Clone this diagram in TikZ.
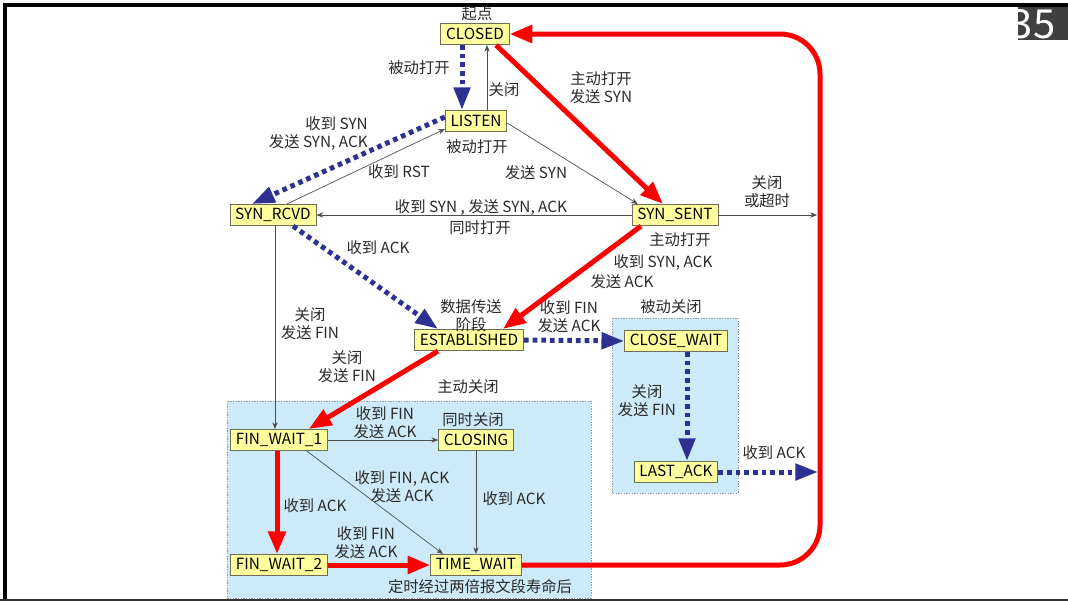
\documentclass[tikz,border=0pt]{standalone}
\usepackage{fontspec}
\setmainfont{Noto Sans CJK SC}
\usepackage{tikz}
\usetikzlibrary{arrows.meta,calc}

\definecolor{stateyellow}{HTML}{FFFF9E}
\definecolor{statedraw}{HTML}{6E6E58}
\definecolor{tcpblue}{HTML}{2E3192}
\definecolor{tcpred}{HTML}{FF0000}
\definecolor{areablue}{HTML}{CCEAF9}
\definecolor{areadraw}{HTML}{8C9CA8}
\definecolor{labelgray}{HTML}{2A2A2A}
\definecolor{pagegray}{HTML}{404040}

\begin{document}
\begin{tikzpicture}[
  x=0.75pt, y=-0.75pt,
  font=\fontsize{11.5}{13.5}\selectfont,
  state/.style={draw=statedraw, fill=stateyellow, line width=0.6pt,
                minimum height=16pt, inner xsep=4pt, inner ysep=1pt,
                text=black},
  lbl/.style={inner sep=0pt, align=center, text=labelgray},
  area/.style={draw=areadraw, fill=areablue, line width=0.6pt,
               dash pattern=on 1pt off 1pt},
  thinarr/.style={-{Stealth[length=5pt, width=4pt]}, line width=0.5pt,
                  draw=black!70},
  redarr/.style={-{Triangle[length=17pt, width=13pt]}, line width=3.75pt,
                 draw=tcpred},
  bluearr/.style={-{Triangle[length=17pt, width=12pt]}, line width=3.75pt,
                  draw=tcpblue, dash pattern=on 3.5pt off 3pt}
]
\useasboundingbox (0,0) rectangle (1068,601);
\fill[white] (0,0) rectangle (1068,601);

% slide frame and page number
\fill[black] (3,3) rectangle (1068,7);
\fill[black] (3,3) rectangle (7,601);
\fill[black!80] (0,598.5) rectangle (1068,601);
\fill[pagegray] (1018,7) rectangle (1068,40);
\begin{scope}
  \clip (1018,7) rectangle (1068,40);
  \node[text=white, font=\fontsize{30}{30}\selectfont, inner sep=0pt]
    (pagenum) at (1033,24) {35};
\end{scope}

% shaded closing regions
\draw[area] (227,401) rectangle (591,598);
\draw[area] (612,318) rectangle (738,493);

% states
\node[state] (closed)    at (475,34)  {CLOSED};
\node[state] (listen)    at (476,121) {LISTEN};
\node[state] (synrcvd)   at (273,215) {SYN\_RCVD};
\node[state] (synsent)   at (675,215) {SYN\_SENT};
\node[state] (estab)     at (469,340) {ESTABLISHED};
\node[state] (closewait) at (676,341) {CLOSE\_WAIT};
\node[state] (lastack)   at (676,472) {LAST\_ACK};
\node[state] (finwait1)  at (279,440) {FIN\_WAIT\_1};
\node[state] (closing)   at (476,440) {CLOSING};
\node[state] (finwait2)  at (279,565) {FIN\_WAIT\_2};
\node[state] (timewait)  at (476,565) {TIME\_WAIT};
\coordinate (rx1) at (817,215);
\coordinate (rx2) at (818,472);

% transitions
\draw[bluearr] ($(closed.south)+(-13,0)$) -- ($(listen.north)+(-14,0)$);
\draw[thinarr] ($(listen.north)+(11,0)$) -- ($(closed.south)+(12,0)$);
\draw[redarr] ($(closed.south)+(21,0)$) -- ($(synsent.north)+(-12,0)$);
\draw[bluearr] ($(listen.west)+(0,-4)$) -- ($(synrcvd.north)+(-21,0)$);
\draw[thinarr] ($(synrcvd.north)+(14,0)$) -- ($(listen.west)+(0,8)$);
\draw[thinarr] ($(listen.east)+(0,2)$) -- ($(synsent.north west)+(6,0)$);
\draw[thinarr] (synsent.west) -- (synrcvd.east);
\draw[thinarr] (synsent.east) -- (rx1);
\draw[bluearr] ($(synrcvd.south)+(20,0)$) -- ($(estab.north)+(-31,0)$);
\draw[redarr] ($(synsent.south)+(-34,0)$) -- ($(estab.north)+(34,0)$);
\draw[bluearr] (estab.east) -- (closewait.west);
\draw[bluearr] ($(closewait.south)+(11,0)$) -- ($(lastack.north)+(11,0)$);
\draw[bluearr] (lastack.east) -- (rx2);
\draw[thinarr] ($(synrcvd.south)+(2,0)$) -- ($(finwait1.north)+(-4,0)$);
\draw[redarr] ($(estab.south)+(-31,0)$) -- ($(finwait1.north east)+(-19,0)$);
\draw[thinarr] (finwait1.east) -- (closing.west);
\draw[thinarr] ($(finwait1.south east)+(-21,0)$) -- ($(timewait.north)+(-33,0)$);
\draw[thinarr] (closing.south) -- (timewait.north);
\draw[redarr] ($(finwait1.south)+(-2,0)$) -- ($(finwait2.north)+(-2,0)$);
\draw[redarr] (finwait2.east) -- (timewait.west);
\draw[redarr, rounded corners=30pt] (timewait.east) -- (820,565) -- (820,34)
  -- (closed.east);

% labels
\node[lbl] (qidian)        at (477,14)  {起点};
\node[lbl] (l-passive)     at (419,68)  {被动打开};
\node[lbl] (l-close1)      at (504,90)  {关闭};
\node[lbl] (l-active)      at (601,88)  {主动打开\\发送 SYN};
\node[lbl, align=right, anchor=east] (l-synack) at (368,134)
  {收到 SYN\\发送 SYN, ACK};
\node[lbl] (l-passive2)    at (477,147) {被动打开};
\node[lbl] (l-rst)         at (399,172) {收到 RST};
\node[lbl] (l-sendsyn)     at (536,173) {发送 SYN};
\node[lbl] (l-timeout)     at (767,192) {关闭\\或超时};
\node[lbl] (l-simopen1)    at (481,207) {收到 SYN , 发送 SYN, ACK};
\node[lbl] (l-simopen2)    at (480,228) {同时打开};
\node[lbl] (l-active2)     at (680,240) {主动打开};
\node[lbl] (l-ack1)        at (378,248) {收到 ACK};
\node[lbl] (l-synack2)     at (663,263) {收到 SYN, ACK};
\node[lbl] (l-sendack)     at (622,282) {发送 ACK};
\node[lbl] (l-data)        at (471,316) {数据传送\\阶段};
\node[lbl] (l-fin1)        at (569,317) {收到 FIN\\发送 ACK};
\node[lbl] (l-passclose)   at (671,307) {被动关闭};
\node[lbl] (l-close2)      at (310,324) {关闭\\发送 FIN};
\node[lbl] (l-close3)      at (347,367) {关闭\\发送 FIN};
\node[lbl] (l-actclose)    at (468,387) {主动关闭};
\node[lbl] (l-close4)      at (647,401) {关闭\\发送 FIN};
\node[lbl] (l-fin2)        at (385,423) {收到 FIN\\发送 ACK};
\node[lbl] (l-simclose)    at (473,420) {同时关闭};
\node[lbl] (l-ack2)        at (774,453) {收到 ACK};
\node[lbl] (l-finack)      at (402,487) {收到 FIN, ACK\\发送 ACK};
\node[lbl] (l-ack3)        at (514,499) {收到 ACK};
\node[lbl] (l-ack4)        at (315,506) {收到 ACK};
\node[lbl] (l-fin3)        at (366,543) {收到 FIN\\发送 ACK};
\node[lbl] (l-2msl)        at (480,587) {定时经过两倍报文段寿命后};
\end{tikzpicture}
\end{document}
